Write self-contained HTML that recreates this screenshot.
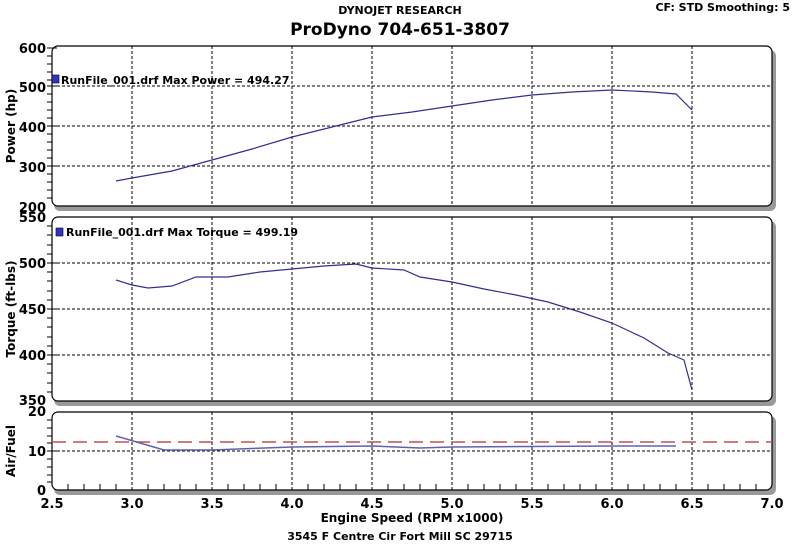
<!DOCTYPE html>
<html><head><style>
body{margin:0;background:#fff;}
svg text{font-family:"DejaVu Sans","Liberation Sans",sans-serif;font-weight:bold;}
</style></head><body>
<svg width="800" height="543" viewBox="0 0 800 543" xmlns="http://www.w3.org/2000/svg">
<rect width="800" height="543" fill="#fff"/>
<text x="400" y="14" font-size="11" text-anchor="middle">DYNOJET RESEARCH</text>
<text x="400" y="35" font-size="17" text-anchor="middle">ProDyno 704-651-3807</text>
<text x="790" y="11" font-size="11" text-anchor="end">CF: STD  Smoothing: 5</text>

<rect x="54" y="50" width="722" height="161" rx="6" fill="#999"/>
<rect x="54" y="221" width="722" height="185" rx="6" fill="#999"/>
<rect x="54" y="416" width="722" height="79" rx="6" fill="#999"/>
<rect x="52" y="46" width="720" height="160" rx="6" fill="#fff" stroke="#000" stroke-width="1.2"/>
<rect x="52" y="217" width="720" height="184" rx="6" fill="#fff" stroke="#000" stroke-width="1.2"/>
<rect x="52" y="412" width="720" height="78" rx="6" fill="#fff" stroke="#000" stroke-width="1.2"/>

<g stroke="#000" stroke-dasharray="3,2" stroke-width="1">
<path d="M132 46V206M212 46V206M292 46V206M372 46V206M452 46V206M532 46V206M612 46V206M692 46V206"/>
<path d="M132 217V401M212 217V401M292 217V401M372 217V401M452 217V401M532 217V401M612 217V401M692 217V401"/>
<path d="M132 412V490M212 412V490M292 412V490M372 412V490M452 412V490M532 412V490M612 412V490M692 412V490"/>
<path d="M52 86H772M52 126H772M52 166H772"/>
<path d="M52 263H772M52 309H772M52 355H772"/>
<path d="M52 451H772"/>
</g>
<path d="M52 442H772" stroke="#c05050" stroke-width="1.5" stroke-dasharray="14,7"/>

<g stroke="#000" stroke-width="1">
<path d="M47 48H57M47 56H52M47 64H52M47 72H52M47 80H52M47 86H57M47 94H52M47 102H52M47 110H52M47 118H52M47 126H57M47 134H52M47 142H52M47 150H52M47 158H52M47 166H57M47 174H52M47 182H52M47 190H52M47 198H52"/>
<path d="M47 226H52M47 235H52M47 245H52M47 254H52M47 263H57M47 272H52M47 281H52M47 291H52M47 300H52M47 309H57M47 318H52M47 327H52M47 337H52M47 346H52M47 355H57M47 364H52M47 373H52M47 383H52M47 392H52"/>
<path d="M47 420H52M47 428H52M47 436H52M47 443H52M47 451H57M47 459H52M47 467H52M47 475H52M47 482H52"/>
<path d="M68 490V484M84 490V484M100 490V484M116 490V484M148 490V484M164 490V484M180 490V484M196 490V484M228 490V484M244 490V484M260 490V484M276 490V484M308 490V484M324 490V484M340 490V484M356 490V484M388 490V484M404 490V484M420 490V484M436 490V484M468 490V484M484 490V484M500 490V484M516 490V484M548 490V484M564 490V484M580 490V484M596 490V484M628 490V484M644 490V484M660 490V484M676 490V484M708 490V484M724 490V484M740 490V484M756 490V484"/>
</g>

<g font-size="13" text-anchor="end">
<text x="46" y="53">600</text><text x="46" y="92">500</text><text x="46" y="132">400</text><text x="46" y="172">300</text><text x="46" y="212">200</text>
<text x="46" y="222">550</text><text x="46" y="268">500</text><text x="46" y="314">450</text><text x="46" y="360">400</text><text x="46" y="405">350</text>
<text x="46" y="416">20</text><text x="46" y="456">10</text><text x="46" y="495">0</text>
</g>
<g font-size="13" text-anchor="middle">
<text x="52" y="508">2.5</text><text x="132" y="508">3.0</text><text x="212" y="508">3.5</text><text x="292" y="508">4.0</text><text x="372" y="508">4.5</text><text x="452" y="508">5.0</text><text x="532" y="508">5.5</text><text x="612" y="508">6.0</text><text x="692" y="508">6.5</text><text x="772" y="508">7.0</text>
</g>
<text x="412" y="522" font-size="12" text-anchor="middle">Engine Speed (RPM x1000)</text>
<text x="400" y="540" font-size="11" text-anchor="middle">3545 F Centre Cir Fort Mill SC 29715</text>
<text transform="translate(15,126) rotate(-90)" font-size="12" text-anchor="middle">Power (hp)</text>
<text transform="translate(15,309) rotate(-90)" font-size="12" text-anchor="middle">Torque (ft-lbs)</text>
<text transform="translate(15,451) rotate(-90)" font-size="12" text-anchor="middle">Air/Fuel</text>

<rect x="52" y="75" width="7" height="8" fill="#3333cc" stroke="#000" stroke-width="0.6"/>
<text x="61" y="84" font-size="11">RunFile_001.drf Max Power = 494.27</text>
<rect x="56" y="228" width="7" height="8" fill="#3333cc" stroke="#000" stroke-width="0.6"/>
<text x="66" y="236" font-size="11">RunFile_001.drf Max Torque = 499.19</text>

<g fill="none" stroke="#303090" stroke-width="1.2">
<polyline points="116,181 132,178 172,171 212,160 252,149 292,137 332,127 372,117 412,112 452,106 492,100 532,95 572,92 612,90 652,92 676,94 692,110"/>
<polyline points="116,280 132,285 148,288 172,286 196,277 228,277 260,272 292,269 324,266 356,264 372,268 404,270 420,277 452,282 484,289 516,295 548,302 580,312 612,323 644,338 668,353 684,360 692,390"/>
</g>
<polyline fill="none" stroke="#6060b0" stroke-width="1.5" points="116,436 164,450 212,450 292,447 372,446 420,448 452,447 612,446 676,446"/>
</svg>
</body></html>
